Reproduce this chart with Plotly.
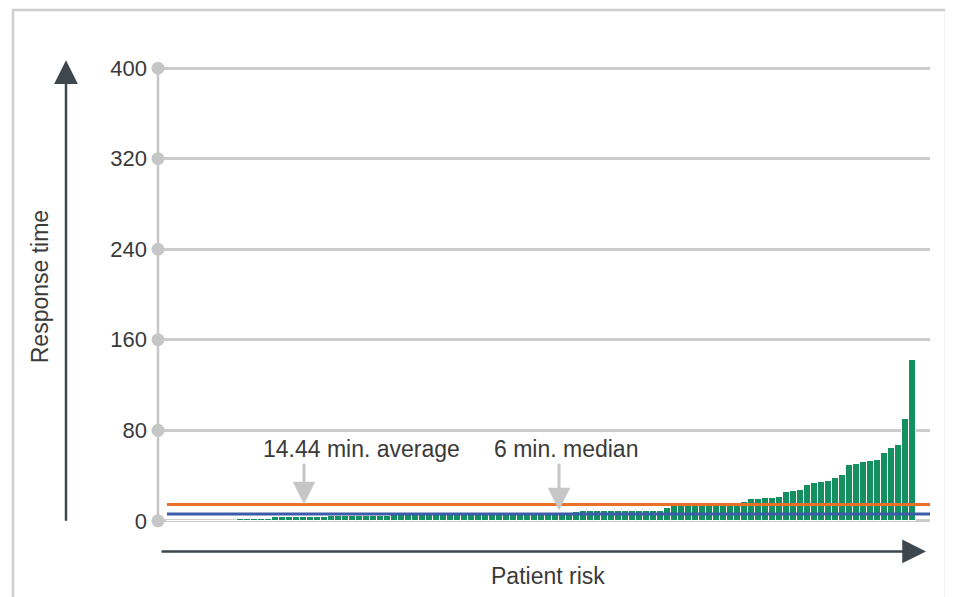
import plotly.graph_objects as go

# ---------------- data ----------------
response_times = (
    [0] * 10
    + [2] * 5
    + [3] * 8
    + [4] * 9
    + [5]
    + [6] * 24
    + [7, 8]
    + [9] * 12
    + [11]
    + [12.8] * 5
    + [15] * 5
    + [16.6, 19.3, 19.3, 20.2, 20.2, 21]
    + [25.5, 26.4, 27.2, 31.7, 33.4, 34.3, 35.2, 37.8, 40.5]
    + [49, 50.2, 51.7, 52.6, 53.5]
    + [60, 64.1, 66.8, 89.7, 142]
)
patients = list(range(len(response_times)))
average_value = 14.44
median_value = 6
y_ticks = [0, 80, 160, 240, 320, 400]
average_label = "14.44 min. average"
median_label = "6 min. median"
x_title = "Patient risk"
y_title = "Response time"

# ---------------- geometry helpers ----------------
OFF = 8  # page body margin
W, H = 953 - OFF, 597 - OFF
SCALE = (520.5 - 68) / 400.0  # px per minute
Y_LO, Y_HI = -1.0, 401.0
RL, RR = 158, 930
RB = 520.5 + (0 - Y_LO) * SCALE
RT = 68 - (Y_HI - 400) * SCALE
def px(xp):
    return (xp - RL) / (RR - RL)
def py(yp):
    return (RB - yp) / (RB - RT)

x_lo = -1.786
x_hi = 108.5

FONT = "Liberation Sans, Arial, Helvetica, sans-serif"
TXT = "#3a3a3a"
DARK = "#3e474e"
GRID = "#cccccc"
LIGHT = "#c6c6c6"
GREEN = "#148f5f"
ORANGE = "#e8702a"
BLUE = "#3b5aa8"
FS = 23

fig = go.Figure()

fig.add_trace(go.Bar(
    x=patients, y=response_times,
    marker=dict(color=GREEN, line=dict(width=1, color="white")),
    width=1.0, showlegend=False, hoverinfo="skip",
))

fig.add_trace(go.Scatter(
    x=[-0.5, x_hi], y=[average_value, average_value], mode="lines",
    line=dict(color=ORANGE, width=3), showlegend=False, hoverinfo="skip",
))
fig.add_trace(go.Scatter(
    x=[-0.5, x_hi], y=[median_value, median_value], mode="lines",
    line=dict(color=BLUE, width=3), showlegend=False, hoverinfo="skip",
))

# axis dots
fig.add_trace(go.Scatter(
    x=[x_lo] * len(y_ticks), y=y_ticks, mode="markers",
    marker=dict(color=LIGHT, size=13), cliponaxis=False,
    showlegend=False, hoverinfo="skip",
))

annotations = []
annotations.append(dict(
    xref="paper", yref="paper", x=px(361), y=py(449), text=average_label,
    showarrow=False, xanchor="center", yanchor="middle",
    font=dict(family=FONT, size=FS, color=TXT),
))
annotations.append(dict(
    xref="paper", yref="paper", x=px(565.5), y=py(449), text=median_label,
    showarrow=False, xanchor="center", yanchor="middle",
    font=dict(family=FONT, size=FS, color=TXT),
))
annotations.append(dict(
    xref="paper", yref="paper", x=px(304), y=py(504), text="",
    showarrow=True, axref="pixel", ayref="pixel", ax=0, ay=-42,
    arrowhead=2, arrowsize=1.5, arrowwidth=3, arrowcolor=LIGHT, standoff=0,
))
annotations.append(dict(
    xref="paper", yref="paper", x=px(559), y=py(510), text="",
    showarrow=True, axref="pixel", ayref="pixel", ax=0, ay=-48,
    arrowhead=2, arrowsize=1.5, arrowwidth=3, arrowcolor=LIGHT, standoff=0,
))
# big axis arrows
annotations.append(dict(
    xref="paper", yref="paper", x=px(66), y=py(60), text="",
    showarrow=True, axref="pixel", ayref="pixel", ax=0, ay=462,
    arrowhead=2, arrowsize=1.9, arrowwidth=2.5, arrowcolor=DARK, standoff=0,
))
annotations.append(dict(
    xref="paper", yref="paper", x=px(926), y=py(551), text="",
    showarrow=True, axref="pixel", ayref="pixel", ax=-766, ay=0,
    arrowhead=2, arrowsize=1.9, arrowwidth=2.5, arrowcolor=DARK, standoff=0,
))
annotations.append(dict(
    xref="paper", yref="paper", x=px(548), y=py(576), text=x_title,
    showarrow=False, xanchor="center", yanchor="middle",
    font=dict(family=FONT, size=FS, color=TXT),
))
annotations.append(dict(
    xref="paper", yref="paper", x=px(40), y=py(287), text=y_title,
    showarrow=False, textangle=-90, xanchor="center", yanchor="middle",
    font=dict(family=FONT, size=FS, color=TXT),
))

shapes = [
    dict(type="rect", xref="paper", yref="paper",
         x0=px(13), x1=px(946), y0=py(10), y1=py(610),
         line=dict(color="#cfcfcf", width=2.5), fillcolor="rgba(0,0,0,0)", layer="below"),
    dict(type="line", xref="paper", yref="paper",
         x0=0, x1=0, y0=py(520.5), y1=py(68),
         line=dict(color=LIGHT, width=2.5), layer="below"),
]

fig.update_layout(
    width=W, height=H,
    margin=dict(l=RL - OFF, r=W - (RR - OFF), t=RT - OFF, b=H - (RB - OFF)),
    paper_bgcolor="white", plot_bgcolor="white",
    bargap=0,
    xaxis=dict(range=[x_lo, x_hi], showgrid=False, zeroline=False,
               showticklabels=False, showline=False, fixedrange=True),
    yaxis=dict(range=[Y_LO, Y_HI], tickvals=y_ticks, ticktext=[str(v) for v in y_ticks],
               showgrid=True, gridcolor=GRID, gridwidth=2.5, zeroline=False,
               showline=False,
               ticks="", ticklabelstandoff=10,
               tickfont=dict(family=FONT, size=FS - 1, color=TXT), fixedrange=True),
    annotations=annotations,
    shapes=shapes,
)

fig.write_html("out.html")
